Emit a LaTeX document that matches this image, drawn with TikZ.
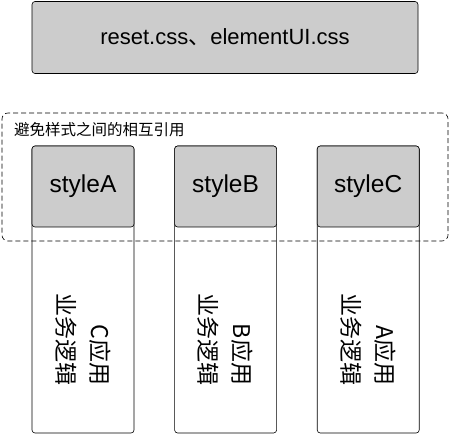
\documentclass[tikz,border=0pt]{standalone}
\usepackage{fontspec}
\setmainfont{Liberation Sans}
\newfontfamily\cjk{Noto Sans CJK SC}
\usetikzlibrary{positioning}
\definecolor{boxgray}{HTML}{CCCCCC}
\tikzset{
    cssbox/.style={rectangle,draw,semithick,rounded corners=3pt,fill=boxgray,minimum width=386pt,minimum height=72pt,font=\fontsize{22}{26}\selectfont},
    stylebox/.style={rectangle,draw,semithick,rounded corners=3pt,fill=boxgray,minimum width=102pt,minimum height=81pt,font=\fontsize{24.5}{28}\selectfont},
    appbox/.style={rectangle,draw,semithick,rounded corners=3pt,minimum width=102pt,minimum height=287pt},
    applabel/.style={rotate=-90,align=right,font=\fontsize{23}{34}\selectfont\cjk},
    group/.style={rectangle,draw,semithick,dash pattern=on 5pt off 3pt,rounded corners=6pt,minimum width=446pt,minimum height=128pt},
    grouplabel/.style={font=\fontsize{15.5}{18}\selectfont\cjk}
}

\begin{document}
\begin{tikzpicture}[x=1pt,y=-1pt]
                \useasboundingbox (0,0) rectangle (449,435);

                \node[cssbox] (css) at (225,37.5) {reset.css{\cjk 、}elementUI.css};

                \node[group]  (group) at (225,177) {};
                \node[grouplabel,anchor=north west] (avoid) at ([xshift=9pt,yshift=-6pt]group.north west)
                    {避免样式之间的相互引用};

                \node[appbox] (appC) at (83,289.5)  {};
                \node[appbox] (appB) [right=40pt of appC] {};
                \node[appbox] (appA) [right=40pt of appB] {};

                \node[stylebox,anchor=north] (styleA) at (appC.north) {styleA};
                \node[stylebox,anchor=north] (styleB) at (appB.north) {styleB};
                \node[stylebox,anchor=north] (styleC) at (appA.north) {styleC};

                \node[applabel] (textC) at ([yshift=-49.5pt]appC.center) {C应用\\业务逻辑};
                \node[applabel] (textB) at ([yshift=-49.5pt]appB.center) {B应用\\业务逻辑};
                \node[applabel] (textA) at ([yshift=-49.5pt]appA.center) {A应用\\业务逻辑};

\end{tikzpicture}
\end{document}
